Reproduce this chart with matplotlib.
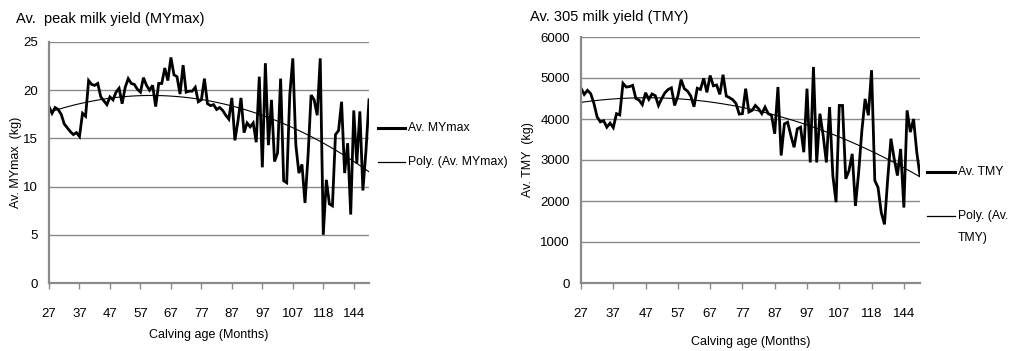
import numpy as np
import matplotlib
matplotlib.use("Agg")
import matplotlib.pyplot as plt
from matplotlib.lines import Line2D

plt.rcParams['font.family'] = ['Liberation Sans', 'DejaVu Sans']

# Calving age categories (months)
calving_age = (list(range(27, 108))
               + [108, 109, 110, 111, 112, 113, 114, 115, 116, 118]
               + [119, 120, 121, 122, 123, 124, 126, 128, 130, 144, 145, 146, 148, 150, 156])

# Average peak milk yield (kg)
av_mymax = [18.3, 17.6, 18.2, 18.0, 17.5, 16.5, 16.1, 15.7, 15.4, 15.6,
            15.2, 17.6, 17.3, 21.0, 20.6, 20.5, 20.7, 19.3, 18.9, 18.5,
            19.3, 19.0, 19.8, 20.2, 18.6, 20.3, 21.2, 20.7, 20.6, 20.1,
            19.8, 21.3, 20.5, 20.0, 20.5, 18.3, 20.7, 20.7, 22.3, 21.0,
            23.4, 21.6, 21.4, 19.6, 22.6, 19.8, 19.9, 19.9, 20.3, 18.8,
            19.0, 21.2, 18.6, 18.4, 18.5, 18.0, 18.2, 17.9, 17.4, 17.0,
            19.2, 14.8, 16.8, 19.2, 15.6, 16.6, 16.2, 16.6, 14.6, 21.4,
            12.0, 22.8, 14.3, 19.0, 12.6, 13.5, 21.2, 10.6, 10.4, 19.5,
            23.3, 14.3, 11.4, 12.3, 8.3, 13.2, 19.5, 19.0, 17.4, 23.3,
            5.0, 10.7, 8.2, 8.0, 15.4, 15.8, 18.8, 11.4, 14.5, 7.1,
            17.9, 12.4, 17.8, 9.6, 13.7, 19.0]

# Average 305-day milk yield (kg)
av_tmy = [4750, 4600, 4700, 4620, 4380, 4050, 3930, 3960, 3800, 3900,
          3790, 4130, 4100, 4870, 4780, 4790, 4820, 4500, 4460, 4350,
          4640, 4480, 4610, 4570, 4330, 4500, 4640, 4720, 4760, 4330,
          4560, 4960, 4740, 4680, 4560, 4300, 4750, 4720, 4990, 4650,
          5060, 4810, 4830, 4600, 5080, 4560, 4520, 4470, 4380, 4120,
          4130, 4740, 4170, 4210, 4330, 4250, 4130, 4290, 4130, 4090,
          3640, 4780, 3110, 3880, 3920, 3600, 3310, 3760, 3800, 3190,
          4740, 2940, 5270, 2940, 4130, 3600, 2940, 4290, 2620, 1970,
          4330, 4330, 2540, 2740, 3150, 1880, 2700, 3720, 4490, 4090,
          5190, 2500, 2330, 1720, 1430, 2540, 3520, 3030, 2620, 3270,
          1840, 4210, 3680, 4000, 3190, 2620]

W, H = 1010, 351
fig = plt.figure(figsize=(W / 100, H / 100), dpi=100)
GRID = '#8a8a8a'


def fx(px):
    return px / W


def fy(py):
    return 1 - py / H


def setup(ax, ymax, ystep, ylabel):
    n = len(calving_age)
    idx = np.arange(n)
    ax.set_xlim(0, n - 1)
    ax.set_ylim(0, ymax)
    ax.set_yticks(np.arange(0, ymax + 1, ystep))
    tick_pos = idx[::10]
    ax.set_xticks(tick_pos)
    ax.set_xticklabels([str(calving_age[i]) for i in tick_pos])
    ax.grid(axis='y', color=GRID, linewidth=1.0)
    ax.set_axisbelow(True)
    for s in ('top', 'right'):
        ax.spines[s].set_visible(False)
    for s in ('left', 'bottom'):
        ax.spines[s].set_color(GRID)
        ax.spines[s].set_linewidth(1.6)
    ax.tick_params(axis='x', direction='out', length=4, width=1, color=GRID,
                   pad=14, labelsize=9.5)
    ax.tick_params(axis='y', length=0, pad=8, labelsize=9.5)
    ax.set_xlabel('Calving age (Months)', fontsize=9)
    ax.set_ylabel(ylabel, fontsize=9)
    return idx


def trend(y):
    x = np.arange(1, len(y) + 1)
    c = np.polyfit(x, y, 2)
    return np.polyval(c, x)


# Left chart
ax1 = fig.add_axes([fx(49), fy(283), fx(320), (283 - 42) / H])
idx = setup(ax1, 25, 5, 'Av. MYmax  (kg)')
ax1.plot(idx, av_mymax, color='black', linewidth=2.0, solid_joinstyle='miter')
ax1.plot(idx, trend(np.array(av_mymax)), color='black', linewidth=0.8)
ax1.xaxis.set_label_coords(0.5, -0.19)
ax1.yaxis.set_label_coords(-0.085, 0.5)
fig.text(fx(16), fy(19), 'Av.  peak milk yield (MYmax)', fontsize=10.5, va='center', ha='left')

# Right chart
ax2 = fig.add_axes([fx(581), fy(283), fx(339), (283 - 37) / H])
idx = setup(ax2, 6000, 1000, 'Av. TMY  (kg)')
ax2.plot(idx, av_tmy, color='black', linewidth=2.0, solid_joinstyle='miter')
ax2.plot(idx, trend(np.array(av_tmy)), color='black', linewidth=0.8)
ax2.xaxis.set_label_coords(0.5, -0.215)
ax2.yaxis.set_label_coords(-0.14, 0.5)
fig.text(fx(530), fy(17), 'Av. 305 milk yield (TMY)', fontsize=10.5, va='center', ha='left')

# Legends
def legend_entry(x0, x1, y, lw, label_lines, dy=22):
    fig.add_artist(Line2D([fx(x0), fx(x1)], [fy(y), fy(y)], color='black', linewidth=lw,
                          transform=fig.transFigure))
    for k, t in enumerate(label_lines):
        fig.text(fx(x1 + 3), fy(y + k * dy), t, fontsize=8.8, va='center', ha='left')


legend_entry(378, 405, 127.5, 2.2, ['Av. MYmax'])
legend_entry(378, 405, 161.5, 0.9, ['Poly. (Av. MYmax)'])
legend_entry(927, 955, 172, 2.2, ['Av. TMY'])
legend_entry(927, 955, 216, 0.9, ['Poly. (Av.', 'TMY)'])

fig.savefig('out.png', dpi=100)
